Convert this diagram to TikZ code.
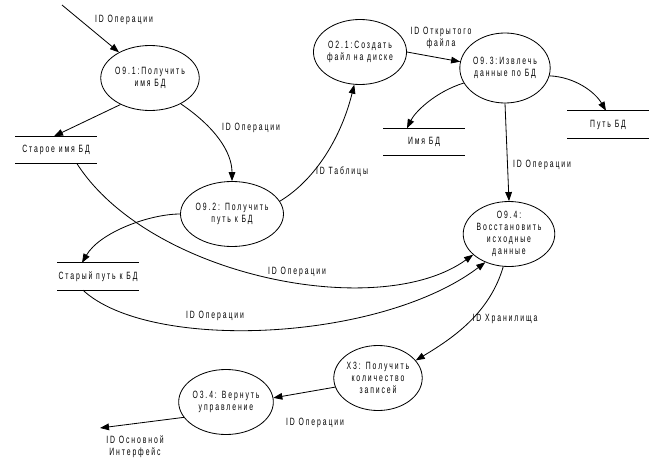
\documentclass[tikz,border=0pt]{standalone}
\usepackage{fontspec}
\setmainfont[FakeStretch=0.65,LetterSpace=18]{Liberation Sans}
\usetikzlibrary{shapes,arrows.meta,calc}

\begin{document}
\begin{tikzpicture}[
    x=0.03cm, y=0.03cm,
    proc/.style={ellipse, draw, line width=0.7pt, minimum width=2.6cm, minimum height=1.95cm, inner sep=0pt, align=center, font=\fontsize{9}{10.2}\selectfont},
    store/.style={rectangle, minimum width=2.43cm, minimum height=0.81cm, inner sep=0pt, font=\fontsize{9}{10.2}\selectfont},
    lbl/.style={align=center, inner sep=0pt, font=\fontsize{9}{10.2}\selectfont},
    arrow/.style={-{Triangle[length=0.27cm,width=0.2cm]}, line width=0.7pt},
    flow/.style={line width=0.7pt}
]
\useasboundingbox (0,0) rectangle (665,462);

% processes
\node[proc] (p91) at (150,384) {О9.1:Получить\\имя БД};
\node[proc] (p92) at (232,248) {О9.2: Получить\\путь к БД};
\node[proc] (p21) at (360,410) {О2.1:Создать\\файл на диске};
\node[proc, minimum width=2.64cm, minimum height=2.1cm] (p93) at (505,394) {О9.3:Извлечь\\данные по БД};
\node[proc] (p94) at (509,228) {О9.4:\\Восстановить\\исходные\\данные};
\node[proc] (x3) at (378,84) {Х3: Получить\\количество\\записей};
\node[proc] (p34) at (226,60) {О3.4: Вернуть\\управление};

% stores
\node[store] (oldname) at (56,312) {Старое имя БД};
\node[store] (namedb) at (424,320) {Имя БД};
\node[store] (pathdb) at (608,337.5) {Путь БД};
\node[store] (oldpath) at (98,185.5) {Старый путь к БД};
\foreach \s in {oldname,namedb,pathdb,oldpath} {
    \draw[flow] (\s.north west) -- (\s.north east);
    \draw[flow] (\s.south west) -- (\s.south east);
}

\coordinate (in) at (62,457);
\coordinate (out) at (100,34);

% flows
\draw[arrow] (in) -- (p91);
\draw[arrow] (p91.222) -- ($(oldname.north)+(-2,0)$);
\draw[arrow] (p91.-40) .. controls (215,335) and (232,310) .. (p92.north);
\draw[arrow] (p92.15) .. controls (312,280) and (340,320) .. (p21.-100);
\draw[arrow] (p21.east) -- (p93.172);
\draw[arrow] (p93.200) .. controls (435,370) and (415,350) .. ($(namedb.north)+(-17,0)$);
\draw[arrow] (p93.-10) .. controls (575,385) and (595,370) .. ($(pathdb.north)+(-2,0)$);
\draw[arrow] (p93.south) -- (p94.north);
\draw[arrow] (p92.west) .. controls (150,248) and (100,230) .. ($(oldpath.north)+(-16,0)$);
\draw[arrow] ($(oldname.south)+(21,0)$) .. controls (150,185) and (380,140) .. (p94.210);
\draw[arrow] ($(oldpath.south)+(-15,0)$) .. controls (150,110) and (380,120) .. (p94.230);
\draw[arrow] (p94.-100) .. controls (490,150) and (455,125) .. (x3.25);
\draw[arrow] (x3.192) -- (p34.5);
\draw[arrow] (p34.200) -- (out);

% labels
\node[lbl] (lin) at (124,442) {ID Операции};
\node[lbl] (l9192) at (251,334) {ID Операции};
\node[lbl] (ltab) at (342,290) {ID Таблицы};
\node[lbl] (lopen) at (441,424.5) {ID Открытого\\файла};
\node[lbl] (l9394) at (542,297) {ID Операции};
\node[lbl] (loldname) at (297,190) {ID Операции};
\node[lbl] (loldpath) at (215,146) {ID Операции};
\node[lbl] (lstore) at (505,143) {ID Хранилища};
\node[lbl] (lx3) at (315,39) {ID Операции};
\node[lbl] (lout) at (135,15.5) {ID Основной\\Интерфейс};
\end{tikzpicture}
\end{document}
